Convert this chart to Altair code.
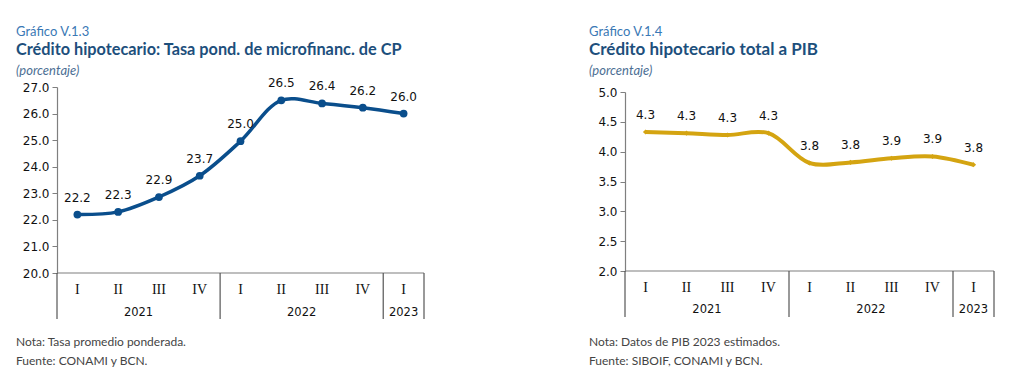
import altair as alt
import pandas as pd

# ---- data ----
quarters = ["I", "II", "III", "IV", "I", "II", "III", "IV", "I"]
positions = [0, 1, 2, 3, 4, 5, 6, 7, 8]
years = ["2021", "2022", "2023"]
year_centers = [1.5, 5.5, 8]
separators = [-0.5, 3.5, 7.5, 8.5]
tasa_cp = [22.2, 22.3, 22.86, 23.66, 24.96, 26.5, 26.38, 26.22, 26.0]
credito_pib = [4.33, 4.31, 4.28, 4.31, 3.81, 3.82, 3.89, 3.92, 3.78]
ticks_cp = [20.0, 21.0, 22.0, 23.0, 24.0, 25.0, 26.0, 27.0]
ticks_pib = [2.0, 2.5, 3.0, 3.5, 4.0, 4.5, 5.0]

HFONT = "Lato"
NUMFONT = "DejaVu Sans"


def panel(values, color, ydom, yrange, yticks, W, H, head_x, gtitle, title,
          tsize, notes, shape, psize, sw, qy, yy, sep_bottom):
    df = pd.DataFrame({"pos": positions, "q": quarters, "v": values})
    xs = alt.Scale(domain=[-0.5, 8.5], nice=False, zero=False)
    ys = alt.Scale(domain=ydom, range=yrange, nice=False, zero=False)
    x = alt.X("pos:Q", scale=xs, axis=None)
    y = alt.Y("v:Q", scale=ys, axis=alt.Axis(
        values=yticks, format=".1f", title=None, grid=False,
        domainColor="#7f7f7f", tickColor="#7f7f7f", tickSize=5,
        labelFont=NUMFONT, labelFontSize=12, labelColor="#111",
        labelPadding=3, domainWidth=1.2))

    line = alt.Chart(df).mark_line(interpolate="catmull-rom", color=color,
                                   strokeWidth=sw).encode(x=x, y=y)
    pts = alt.Chart(df).mark_point(filled=True, shape=shape, size=psize,
                                   color=color, opacity=1).encode(x=x, y=y)
    lbl = alt.Chart(df).mark_text(dy=-17, font=NUMFONT, fontSize=12,
                                  color="#111").encode(
        x=x, y=y, text=alt.Text("v:Q", format=".1f"))

    base_df = pd.DataFrame({"v": [ydom[0]]})
    baseline = alt.Chart(base_df).mark_rule(color="#7f7f7f", strokeWidth=1.2).encode(
        x=alt.value(0), x2=alt.value(W), y=y)

    sep_df = pd.DataFrame({"pos": separators, "v": [ydom[0]] * len(separators)})
    seps = alt.Chart(sep_df).mark_rule(color="#555", strokeWidth=1.2).encode(
        x=x, y=y, y2=alt.value(sep_bottom))

    qlab = alt.Chart(df).mark_text(font="Liberation Serif", fontSize=14,
                                   color="#111").encode(
        x=x, y=alt.value(qy), text="q:N")

    ydf = pd.DataFrame({"pos": year_centers, "yr": years})
    ylab = alt.Chart(ydf).mark_text(font=NUMFONT, fontSize=11.5,
                                    color="#111").encode(
        x=x, y=alt.value(yy), text="yr:N")

    def head(t, yv, **kw):
        return alt.Chart(pd.DataFrame({"t": [t]})).mark_text(
            align="left", baseline="middle", **kw).encode(
            x=alt.value(head_x), y=alt.value(yv), text="t:N")

    h1 = head(gtitle, -55, font=HFONT, fontSize=13, color="#3a78b5")
    h2 = head(title, -37, font=HFONT, fontSize=tsize, fontWeight="bold",
              color="#1d4f7c")
    h3 = head("(porcentaje)", -16, font=HFONT, fontSize=13,
              fontStyle="italic", color="#4d6f94")
    n1 = head(notes[0], 255, font=HFONT, fontSize=12, color="#444")
    n2 = head(notes[1], 274, font=HFONT, fontSize=12, color="#444")

    return alt.layer(baseline, seps, line, pts, lbl, qlab, ylab,
                     h1, h2, h3, n1, n2).properties(width=W, height=H)


W = 367
H = 186
left = panel(tasa_cp, "#0a4e8c", [20.0, 27.0], [H, 0], ticks_cp, W, H, -41,
             "Gráfico V.1.3",
             "Crédito hipotecario: Tasa pond. de microfinanc. de CP", 16.3,
             ["Nota: Tasa promedio ponderada.", "Fuente: CONAMI y BCN."],
             "circle", 60, 3.5, 203, 226, 232)
right = panel(credito_pib, "#d4a411", [2.0, 5.0], [184, 5], ticks_pib, 369, H,
              -36, "Gráfico V.1.4", "Crédito hipotecario total a PIB", 17,
              ["Nota: Datos de PIB 2023 estimados.",
               "Fuente: SIBOIF, CONAMI y BCN."],
              "diamond", 26, 4, 201, 223, 230)

chart = alt.hconcat(left, right, spacing=164).properties(
    padding={"left": 8, "top": 18, "right": 0, "bottom": 0}
).configure_view(stroke=None)

chart.save("out.html", embed_options={"renderer": "svg", "actions": False})
